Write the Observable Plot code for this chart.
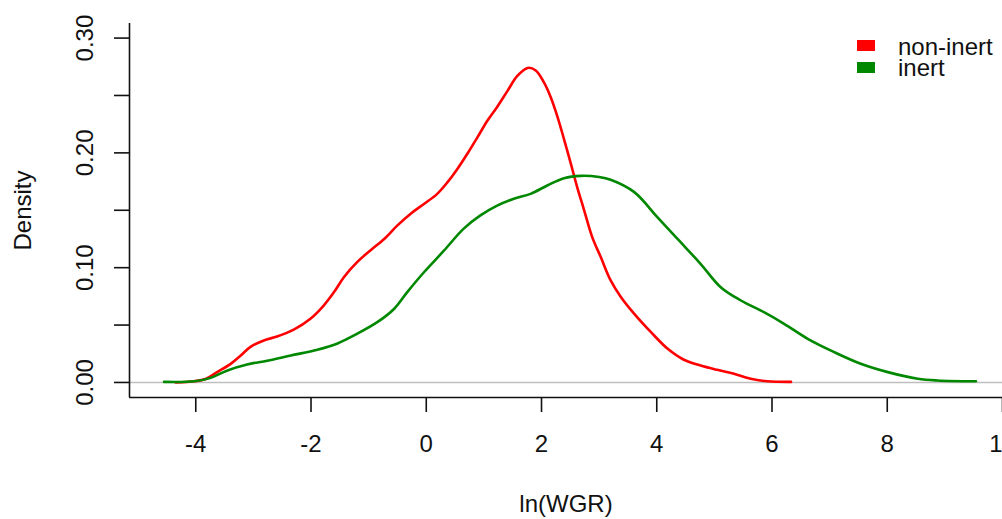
<!DOCTYPE html>
<html>
<head>
<meta charset="utf-8">
<script src="https://cdn.jsdelivr.net/npm/d3@7"></script>
<script src="https://cdn.jsdelivr.net/npm/@observablehq/plot@0.6"></script>
<style>
  html, body { margin: 0; padding: 0; background: #fff; overflow: hidden; }
  #wrap { position: relative; width: 1002px; height: 519px; font-family: "Liberation Sans", Arial, sans-serif; }
  .lg-item { position: absolute; font-size: 24px; color: #111; line-height: 20px; height: 20px; white-space: nowrap; }
  .lg-box { position: absolute; width: 18px; height: 11px; }
</style>
</head>
<body>
<div id="wrap"></div>
<script>
// ---- data ----
const seriesNames = ["non-inert", "inert"];
const seriesColors = ["#ff0000", "#008800"];

const nonInertX = [-4.35,-4.03,-3.83,-3.63,-3.40,-3.22,-3.05,-2.82,-2.59,-2.30,-2.01,-1.78,-1.60,-1.43,-1.20,-0.97,-0.73,-0.50,-0.27,-0.04,0.19,0.37,0.54,0.71,0.89,1.06,1.23,1.41,1.58,1.76,1.90,2.04,2.16,2.28,2.39,2.51,2.62,2.74,2.88,3.03,3.20,3.38,3.61,3.90,4.19,4.47,4.76,5.05,5.34,5.63,5.92,6.33];
const nonInertY = [0,0.001,0.003,0.009,0.016,0.0235,0.031,0.0366,0.040,0.046,0.0555,0.067,0.0787,0.0917,0.1048,0.115,0.125,0.1368,0.147,0.1555,0.1643,0.1745,0.186,0.199,0.2137,0.228,0.240,0.254,0.267,0.274,0.2718,0.2616,0.2485,0.231,0.212,0.1905,0.170,0.150,0.1266,0.109,0.0889,0.0743,0.0598,0.0438,0.0293,0.0198,0.0148,0.011,0.0076,0.0032,0.001,0.0005];

const inertX = [-4.55,-4.03,-3.74,-3.45,-3.11,-2.76,-2.35,-1.89,-1.54,-1.20,-0.85,-0.56,-0.33,-0.04,0.31,0.65,0.94,1.23,1.52,1.81,2.10,2.39,2.68,3.00,3.20,3.61,4.01,4.36,4.76,5.11,5.46,5.86,6.21,6.62,7.08,7.54,8.01,8.53,8.87,9.54];
const inertY = [0.0005,0.001,0.004,0.0105,0.0157,0.019,0.0235,0.0285,0.034,0.0424,0.0525,0.064,0.0787,0.096,0.115,0.134,0.1455,0.154,0.160,0.1643,0.1716,0.178,0.180,0.179,0.1766,0.1658,0.144,0.125,0.1034,0.083,0.0714,0.0612,0.0511,0.038,0.0264,0.0163,0.009,0.0032,0.0017,0.001];

const xTicks = [-4, -2, 0, 2, 4, 6, 8, 10];
const yTicks = [0, 0.05, 0.10, 0.15, 0.20, 0.25, 0.30];
const yLabels = [0, 0.10, 0.20, 0.30];
const xTitle = "ln(WGR)";
const yTitle = "Density";

// ---- build ----
const xDomain = [-5.15, 10.0];
const yDomain = [-0.0131, 0.3127];
const toRows = (xs, ys, name) => xs.map((x, i) => ({x, y: ys[i], series: name}));
const rows = [
  ...toRows(nonInertX, nonInertY, seriesNames[0]),
  ...toRows(inertX, inertY, seriesNames[1])
];
const ink = "#111";

const chart = Plot.plot({
  width: 1002,
  height: 519,
  marginLeft: 129,
  marginRight: 0,
  marginTop: 23,
  marginBottom: 122,
  style: {fontFamily: '"Liberation Sans", Arial, sans-serif', fontSize: "24px", background: "#fff", color: ink, overflow: "visible"},
  x: {domain: xDomain},
  y: {domain: yDomain},
  color: {domain: seriesNames, range: seriesColors},
  marks: [
    Plot.ruleY([0], {stroke: "#bebebe", strokeWidth: 1.5}),
    Plot.line(rows, {x: "x", y: "y", z: "series", stroke: "series", strokeWidth: 2.6, curve: "catmull-rom"}),
    Plot.ruleY([yDomain[0]], {stroke: ink, strokeWidth: 1.6}),
    Plot.ruleX([xDomain[0]], {stroke: ink, strokeWidth: 1.6}),
    Plot.axisX({ticks: xTicks, tickSize: 15, tickPadding: 22, tickFormat: d => String(d), stroke: ink, strokeWidth: 1.6, fontSize: 24, label: null}),
    Plot.axisY({ticks: yTicks, tickSize: 15, tickFormat: () => "", stroke: ink, strokeWidth: 1.6, label: null}),
    Plot.text(yLabels, {y: d => d, text: d => d.toFixed(2), frameAnchor: "left", dx: -44, rotate: -90, textAnchor: "middle", lineAnchor: "middle", fontSize: 24, fill: ink}),
    Plot.text([yTitle], {text: d => d, frameAnchor: "left", dx: -106, rotate: -90, textAnchor: "middle", lineAnchor: "middle", fontSize: 24, fill: ink}),
    Plot.text([xTitle], {text: d => d, frameAnchor: "bottom", dy: 107, textAnchor: "middle", lineAnchor: "middle", fontSize: 24, fill: ink})
  ]
});

const wrap = document.getElementById("wrap");
wrap.appendChild(chart);

// legend (top-right, as in the R plot)
seriesNames.forEach((name, i) => {
  const box = document.createElement("div");
  box.className = "lg-box";
  box.style.left = "857px";
  box.style.top = (40 + i * 21.5) + "px";
  box.style.background = seriesColors[i];
  wrap.appendChild(box);
  const t = document.createElement("div");
  t.className = "lg-item";
  t.style.left = "898px";
  t.style.top = (37 + i * 21) + "px";
  t.textContent = name;
  wrap.appendChild(t);
});
</script>
</body>
</html>
